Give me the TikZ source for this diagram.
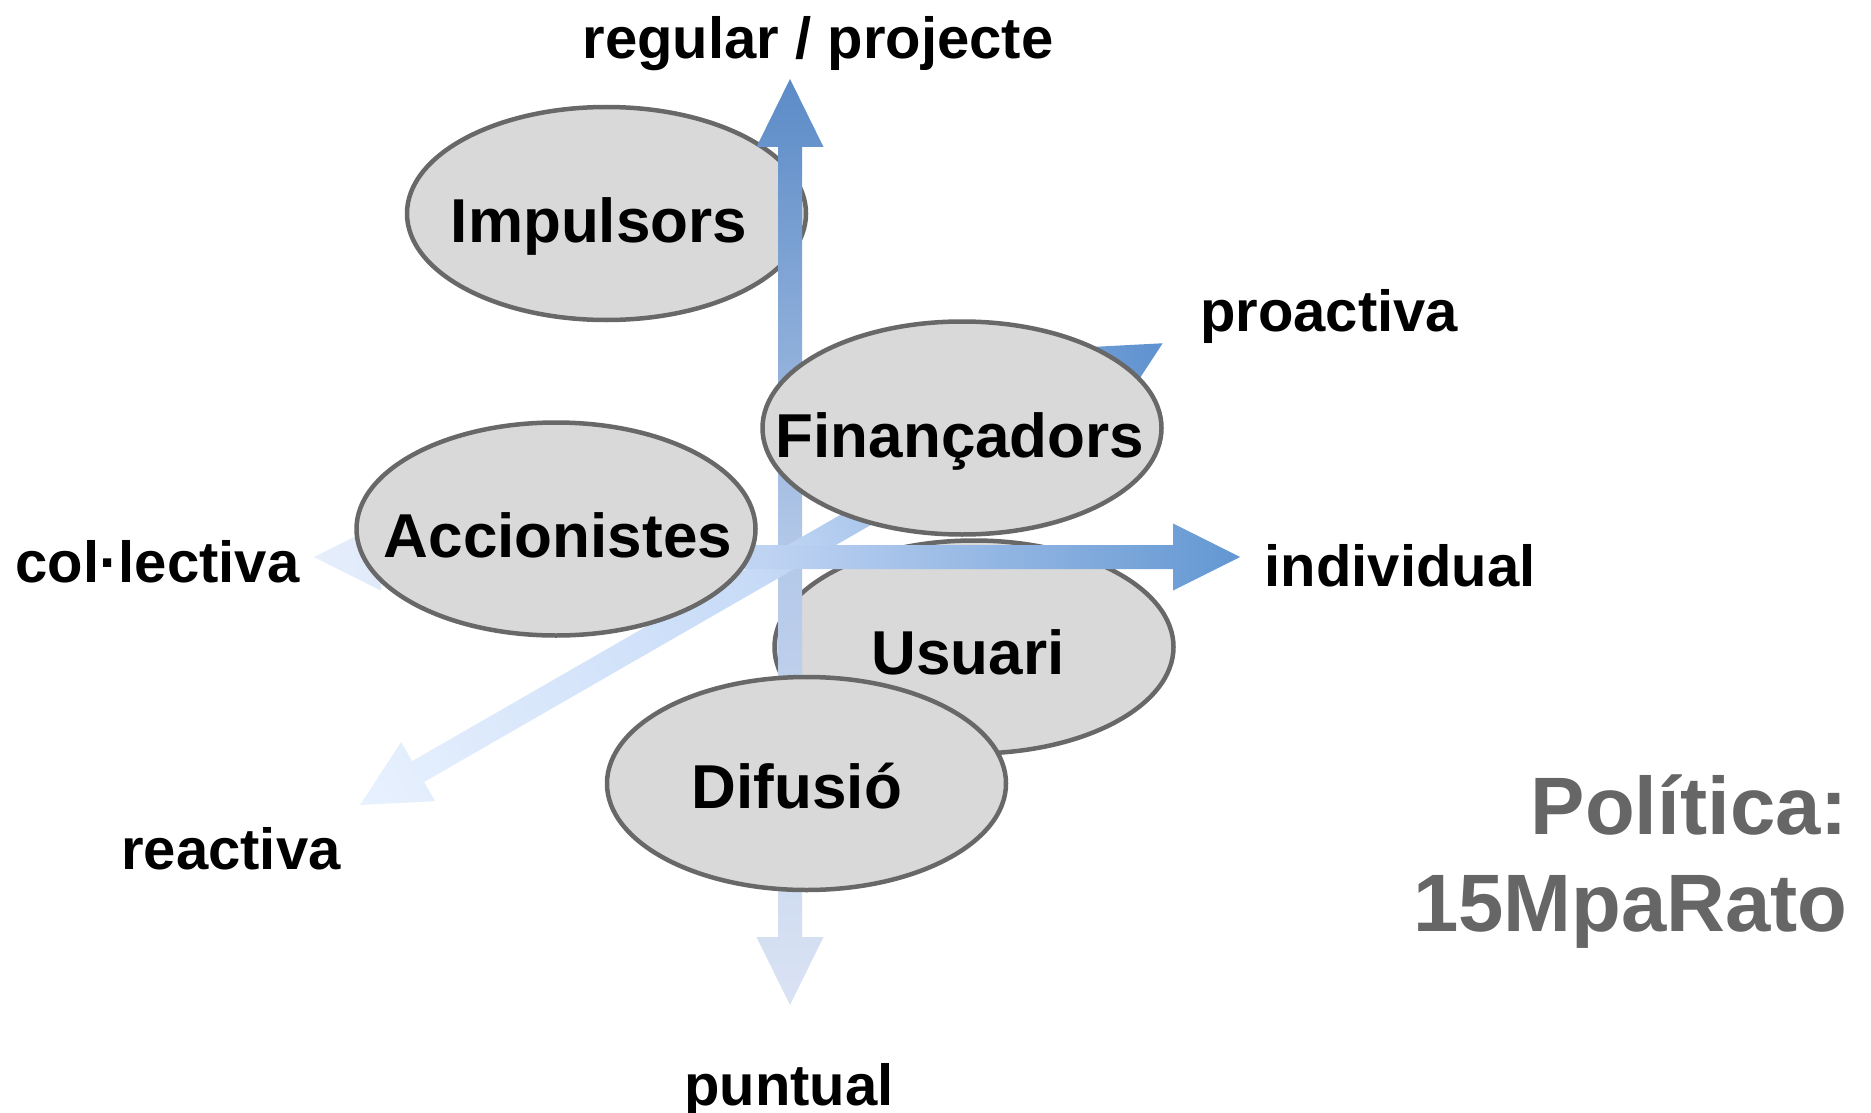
\documentclass[tikz,border=0pt]{standalone}
\usepackage{fontspec}
\setmainfont{Liberation Sans}
\usetikzlibrary{shapes.geometric}
\definecolor{ellfill}{HTML}{D9D9D9}
\definecolor{elldraw}{HTML}{686868}
\definecolor{vlight}{HTML}{DAE3F4}
\definecolor{vmid}{HTML}{B2C7E8}
\definecolor{vdark}{HTML}{5B8BC7}
\definecolor{hlight}{HTML}{E6EEFB}
\definecolor{hmid}{HTML}{BDD2F2}
\definecolor{hdark}{HTML}{6397D2}
\definecolor{dlight}{HTML}{E8F1FE}
\definecolor{dmid}{HTML}{C6DAF7}
\definecolor{ddark}{HTML}{5E91CF}
\definecolor{titlegray}{HTML}{666666}
\pgfdeclarehorizontalshading{vshade}{100bp}{color(0bp)=(vlight); color(25bp)=(vlight); color(50bp)=(vmid); color(75bp)=(vdark); color(100bp)=(vdark)}
\pgfdeclarehorizontalshading{hshade}{100bp}{color(0bp)=(hlight); color(25bp)=(hlight); color(50bp)=(hmid); color(75bp)=(hdark); color(100bp)=(hdark)}
\pgfdeclarehorizontalshading{dshade}{100bp}{color(0bp)=(dlight); color(25bp)=(dlight); color(50bp)=(dmid); color(75bp)=(ddark); color(100bp)=(ddark)}
% #1 light-end tip coordinate, #2 direction angle, #3 length,
% #4 shaft half width, #5 head half width, #6 head length, #7 shading name
\newcommand\axisarrow[7]{%
  \begin{scope}[transform canvas={shift={(#1)},rotate=#2}]
    \shade[shading=#7]
      (0,0) -- (#6,#5) -- (#6,#4) -- (#3-#6,#4) -- (#3-#6,#5) -- (#3,0)
      -- (#3-#6,-#5) -- (#3-#6,-#4) -- (#6,-#4) -- (#6,-#5) -- cycle;
  \end{scope}}
\tikzset{
  ell/.style={ellipse, draw=elldraw, fill=ellfill, line width=4.5pt,
    minimum width=399pt, minimum height=213pt, inner sep=0pt},
  elltext/.style={anchor=base, inner sep=0pt,
    font=\fontsize{62}{74}\selectfont\bfseries},
  axislabel/.style={anchor=base, inner sep=0pt,
    font=\fontsize{58}{70}\selectfont\bfseries},
  titletext/.style={anchor=base east, inner sep=0pt, text=titlegray,
    font=\fontsize{81.5}{98}\selectfont\bfseries}
}
\begin{document}
\begin{tikzpicture}[x=1pt,y=-1pt]
\useasboundingbox[fill=white] (0,0) rectangle (1871,1113);
% axis end points
\coordinate (vS) at (790,1005); \coordinate (vE) at (790,79);
\coordinate (hS) at (314,557);  \coordinate (hE) at (1240,557);
\coordinate (dS) at (360,805);  \coordinate (dE) at (1163,343);
% ellipses lying under the axes
\node[ell] (imp) at (606.5,213.5) {};
\node[ell] (usu) at (974,647) {};
% axes
\axisarrow{vS}{90}{926}{12}{33.5}{68}{vshade}
\axisarrow{dS}{29.91}{926}{12}{34}{67}{dshade}
\axisarrow{hS}{0}{926}{12}{33.5}{67}{hshade}
% ellipses lying over the axes
\node[ell] (acc) at (556,529) {};
\node[ell] (fin) at (962,428) {};
\node[ell] (dif) at (806.5,783.5) {};
% ellipse texts
\node[elltext] (impT) at (599,242) {Impulsors};
\node[elltext] (finT) at (960,457) {Finançadors};
\node[elltext] (accT) at (558,557) {Accionistes};
\node[elltext] (usuT) at (968,674) {Usuari};
\node[elltext] (difT) at (797,808) {Difusió};
% axis labels
\node[axislabel] (lReg) at (818,59) {regular / projecte};
\node[axislabel] (lPro) at (1329,331) {proactiva};
\node[axislabel] (lCol) at (157.5,582) {col·lectiva};
\node[axislabel] (lInd) at (1400,586) {individual};
\node[axislabel] (lRea) at (231,869) {reactiva};
\node[axislabel] (lPun) at (789,1105) {puntual};
% title
\node[titletext] (t1) at (1848,834) {Política:};
\node[titletext] (t2) at (1848,931) {15MpaRato};
\end{tikzpicture}
\end{document}
